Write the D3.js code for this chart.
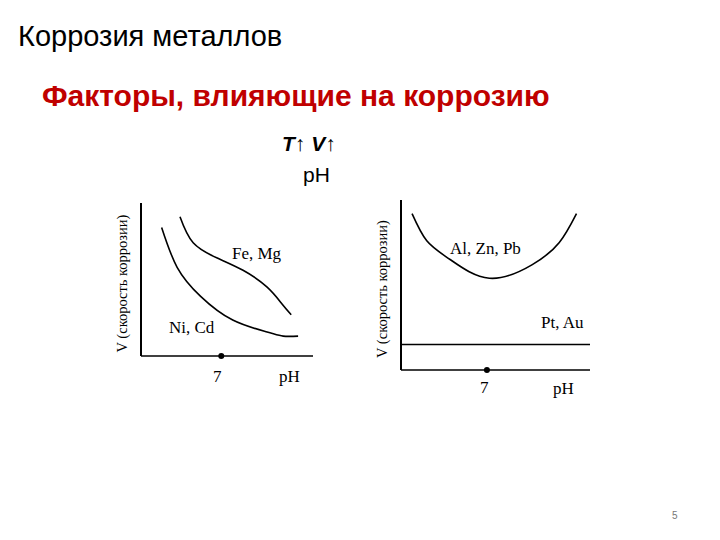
<!DOCTYPE html><html><head><meta charset="utf-8"><script src="https://cdn.jsdelivr.net/npm/d3@7"></script>
<style>body{margin:0;background:#fff}</style></head><body><script>
const niCd=[[1.8,8.4],[3.15,5.8],[5.2,3.9],[8.0,2.35],[11.0,1.57],[12.4,1.3],[13.7,1.3]];
const feMg=[[3.4,9.1],[4.55,7.4],[6.65,6.4],[8.9,5.6],[11.0,4.5],[12.3,3.4],[13.1,2.7]];
const alZnPb=[[0.9,9.2],[2.1,7.6],[4.0,6.5],[7.2,5.4],[10.7,6.2],[12.9,7.5],[14.3,9.2]];
const ptAu=[[0,1.5],[15.4,1.5]];
const neutral=7;
const svg=d3.select("body").append("svg").attr("width",720).attr("height",540);
const T=(x,y,s,o={})=>{const t=svg.append("text").attr("x",x).attr("y",y).text(s).attr("font-family",o.f||"Liberation Sans, Arial").attr("font-size",o.sz||14).attr("fill",o.c||"#000");if(o.w)t.attr("font-weight",o.w);if(o.i)t.attr("font-style","italic");if(o.a)t.attr("text-anchor",o.a);if(o.r)t.attr("transform",`rotate(-90,${x},${y})`);return t;};
T(18,46,"Коррозия металлов",{sz:29});
T(42,106,"Факторы, влияющие на коррозию",{sz:30,w:"bold",c:"#c00000"});
T(282,151,"T↑   V↑",{sz:21,w:"bold",i:true});
T(303,182,"pH",{sz:21});
T(672,519,"5",{sz:10,c:"#777"});
function chart(x0,x1,y0,y1,xmax,series,labels,ylx){
 const x=d3.scaleLinear().domain([0,xmax]).range([x0,x1]);
 const y=d3.scaleLinear().domain([0,10]).range([y0,y1]);
 const g=svg.append("g");
 g.append("line").attr("x1",x0).attr("x2",x0).attr("y1",y0).attr("y2",y(10)).attr("stroke","#000").attr("stroke-width",2);
 g.append("line").attr("x1",x0).attr("x2",x1).attr("y1",y0).attr("y2",y0).attr("stroke","#000").attr("stroke-width",1.5);
 g.append("circle").attr("cx",x(neutral)).attr("cy",y0).attr("r",3);
 const line=d3.line().x(d=>x(d[0])).y(d=>y(d[1])).curve(d3.curveNatural);
 series.forEach(s=>g.append("path").attr("d",line(s)).attr("fill","none").attr("stroke","#000").attr("stroke-width",1.6));
 labels.forEach(l=>T(l[0],l[1],l[2],{f:"Liberation Serif, Times New Roman",sz:17}));
 T(ylx,(y0+y(10))/2+4,"V (скорость коррозии)",{f:"Liberation Serif",sz:14.5,r:true,a:"middle"});
}
chart(141,313,356,203,15,[niCd,feMg],[[232,259,"Fe, Mg"],[169,333,"Ni, Cd"],[213,382,"7"],[279,382,"pH"]],127);
chart(401,590,370,200,15.4,[alZnPb,ptAu],[[450,254,"Al, Zn, Pb"],[541,328,"Pt, Au"],[480,393,"7"],[553,394,"pH"]],387);
</script></body></html>
